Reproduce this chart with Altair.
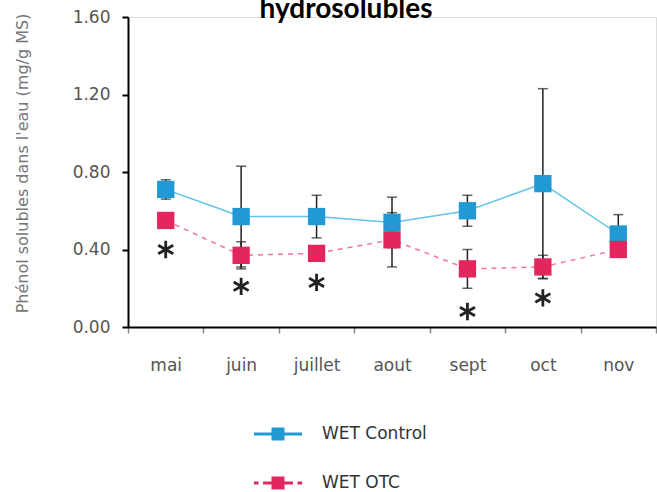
import altair as alt
import pandas as pd

months = ["mai", "juin", "juillet", "aout", "sept", "oct", "nov"]
series_names = ["WET Control", "WET OTC"]
ctrl_mean = [0.71, 0.57, 0.57, 0.54, 0.60, 0.74, 0.48]
ctrl_err = [0.05, 0.26, 0.11, 0.13, 0.08, 0.49, 0.10]
otc_mean = [0.55, 0.37, 0.38, 0.45, 0.30, 0.31, 0.40]
otc_err = [0.02, 0.07, 0.03, 0.14, 0.10, 0.06, 0.03]
star_months = ["mai", "juin", "juillet", "sept", "oct"]
star_values = [0.40, 0.21, 0.23, 0.08, 0.15]
y_ticks = [0.0, 0.4, 0.8, 1.2, 1.6]

BLUE = "#2199d4"
BLUE_LINE = "#62c4ea"
RED = "#e2275f"
RED_LINE = "#f07596"

rows = []
for s, means, errs in [(series_names[0], ctrl_mean, ctrl_err), (series_names[1], otc_mean, otc_err)]:
    for m, v, e in zip(months, means, errs):
        rows.append({"month": m, "series": s, "mean": v, "lo": v - e, "hi": v + e})
df = pd.DataFrame(rows)
stars = pd.DataFrame({"month": star_months, "value": star_values})

base = alt.Chart(df)
x_enc = alt.X(
    "month:N",
    sort=months,
    scale=alt.Scale(domain=months, paddingInner=0, paddingOuter=0),
    axis=alt.Axis(
        title=None, labelAngle=0, tickBand="extent", domainColor="black", domainWidth=2,
        tickColor="#888", tickWidth=1.5, tickSize=6, labelPadding=24,
        labelFont="DejaVu Sans", labelFontSize=17, labelColor="#555",
    ),
)
y_scale = alt.Scale(domain=[0, 1.6], nice=False)
y_enc = alt.Y(
    "mean:Q",
    scale=y_scale,
    axis=alt.Axis(
        title="Phénol solubles dans l'eau (mg/g MS)", values=y_ticks, format=".2f", grid=False,
        domainColor="black", domainWidth=2, tickColor="black", tickWidth=2, tickSize=6,
        labelPadding=12, labelFont="DejaVu Sans", labelFontSize=17, labelColor="#555",
        titleFont="DejaVu Sans", titleFontSize=16, titleFontWeight="normal", titleColor="#777",
        titleX=-106, titleY=146, titleAngle=270, titleAlign="center", titleBaseline="middle",
    ),
)

ctrl = alt.FieldEqualPredicate(field="series", equal=series_names[0])
otc = alt.FieldEqualPredicate(field="series", equal=series_names[1])

line_ctrl = base.transform_filter(ctrl).mark_line(color=BLUE_LINE, strokeWidth=1.5).encode(x=x_enc, y=y_enc)
line_otc = base.transform_filter(otc).mark_line(color=RED_LINE, strokeWidth=1.5, strokeDash=[5, 5]).encode(x=x_enc, y=y_enc)

err_rule = base.mark_rule(color="#222", strokeWidth=1.5).encode(
    x=alt.X("month:N", sort=months), y=alt.Y("lo:Q", scale=y_scale), y2="hi:Q"
)
cap_hi = base.mark_tick(color="#222", thickness=1.5, size=10, orient="horizontal").encode(
    x=alt.X("month:N", sort=months), y=alt.Y("hi:Q", scale=y_scale)
)
cap_lo = base.mark_tick(color="#222", thickness=1.5, size=10, orient="horizontal").encode(
    x=alt.X("month:N", sort=months), y=alt.Y("lo:Q", scale=y_scale)
)

sq_ctrl = base.transform_filter(ctrl).mark_square(color=BLUE, size=300, opacity=1).encode(x=x_enc, y=y_enc)
sq_otc = base.transform_filter(otc).mark_square(color=RED, size=300, opacity=1).encode(x=x_enc, y=y_enc)

asterisk = "M0,-1L0,1M-0.866,-0.5L0.866,0.5M-0.866,0.5L0.866,-0.5"
star_layer = alt.Chart(stars).mark_point(
    shape=asterisk, size=300, stroke="#222", strokeWidth=2.8, filled=False, opacity=1
).encode(x=alt.X("month:N", sort=months), y=alt.Y("value:Q", scale=y_scale))

path_solid = "M-1.85,-0.12H1.85V0.12H-1.85Z M-0.5,-0.5H0.5V0.5H-0.5Z"
path_dash = ("M-1.85,-0.12H-1.5V0.12H-1.85Z M-1.15,-0.12H-0.5V0.12H-1.15Z "
             "M-0.5,-0.5H0.5V0.5H-0.5Z M0.5,-0.12H1.15V0.12H0.5Z M1.5,-0.12H1.85V0.12H1.5Z")
leg = alt.Legend(
    title=None, orient="none", legendX=137, legendY=404, direction="vertical",
    symbolSize=676, symbolStrokeWidth=0, symbolOpacity=1, labelOffset=31, rowPadding=28,
    labelFont="DejaVu Sans", labelFontSize=17, labelColor="#333",
)
legend_layer = base.transform_filter("false").mark_point(filled=True, size=676, opacity=1).encode(
    x=alt.X("month:N", sort=months),
    y=alt.Y("mean:Q", scale=y_scale),
    color=alt.Color("series:N", scale=alt.Scale(domain=series_names, range=[BLUE, RED]), legend=leg),
    shape=alt.Shape("series:N", scale=alt.Scale(domain=series_names, range=[path_solid, path_dash]), legend=leg),
)

chart = alt.layer(
    line_ctrl, line_otc, err_rule, cap_hi, cap_lo, sq_ctrl, sq_otc, star_layer, legend_layer
).properties(
    width=528, height=310,
    title=alt.TitleParams(
        "hydrosolubles", font="Lato", fontSize=28, fontWeight="bold", color="black",
        anchor="middle", frame="group", dx=-46, dy=38, offset=0, baseline="alphabetic",
    ),
    autosize=alt.AutoSizeParams(type="none"),
    padding={"left": 128, "top": 17, "right": 1, "bottom": 165},
).configure_view(stroke=None).configure(background="white")

chart.save("out.html", embed_options={"renderer": "svg", "actions": False})
